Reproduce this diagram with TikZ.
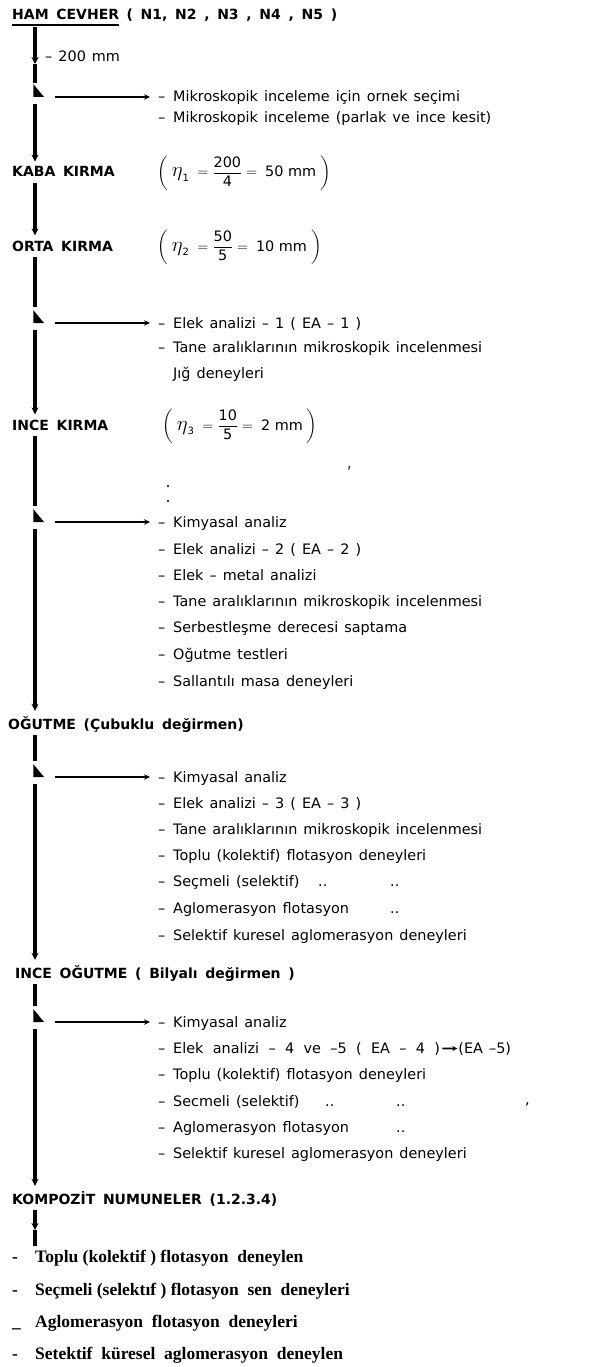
\documentclass[tikz,border=0pt]{standalone}
\usepackage{fontspec}
\usepackage{amsmath}
\usepackage{graphicx}
\setmainfont{DejaVu Sans}
\newfontfamily\serifbold{Liberation Serif}
\usetikzlibrary{arrows.meta,calc}
\newcommand{\blt}{\makebox[15pt][l]{–}}
\newcommand{\sblt}[1]{\makebox[23pt][l]{#1}}
\newcommand{\wsp}{\spaceskip 0.42em\relax}
\newcommand{\hsp}{\spaceskip 0.55em\relax}
\newcommand{\widesp}{\spaceskip 0.65em\relax}
\newcommand{\bigeta}{\mbox{\fontsize{20}{20}\selectfont$\eta$}}
\newcommand{\etafrm}[4]{$\left(\;\bigeta_{\text{#1}}\;=\dfrac{\text{#2}}{\text{#3}}=\;\text{#4}\;\right)$}
\begin{document}
\begin{tikzpicture}[x=1pt,y=-1pt,
  item/.style={anchor=base west,inner sep=0pt,font=\fontsize{14.4}{17}\selectfont\wsp},
  head/.style={anchor=base west,inner sep=0pt,font=\fontsize{14}{17}\selectfont\bfseries\hsp},
  frm/.style={anchor=base west,inner sep=0pt,font=\fontsize{14.4}{17}\selectfont},
  sitem/.style={anchor=base west,inner sep=0pt,font=\serifbold\fontsize{17.5}{21}\selectfont\bfseries},
  spine/.style={line width=3.5pt},
  spinearrow/.style={line width=3.5pt,-{Stealth[length=7pt,width=7pt]}},
  branch/.style={line width=2.2pt,-{Stealth[length=6pt,width=5.5pt]},shorten >=8pt},
  trimark/.style={fill=black}
]
\useasboundingbox (0,0) rectangle (613,1367);
\coordinate (sp) at (35,0);

% ---------- HAM CEVHER ----------
\node[head] (ham) at (12,20) {HAM CEVHER};
\node[head] (hamN) at ($(ham.base east)+(7,0)$) {( N1, N2 , N3 , N4 , N5 )};
\draw[line width=2.2pt] ($(ham.base west)+(0,5)$) -- ($(ham.base east)+(0,5)$);
\node[item] (d200) at (45,62) {– 200 mm};
\coordinate (m0) at (35,64);
\coordinate (j1) at (35,97);
\draw[spinearrow,shorten <=7pt] (ham.south -| sp) -- (m0);
\draw[spine] (m0) -- ($(j1)+(0,-14)$);
\fill[trimark] ($(j1)+(-1.75,-13)$) -- ($(j1)+(-1.75,0)$) -- ($(j1)+(9,0)$) -- cycle;
\node[item] (a1) at (158,102) {\blt Mikroskopik inceleme için ornek seçimi};
\node[item] (a2) at (158,123) {\blt Mikroskopik inceleme (parlak ve ince kesit)};
\draw[branch] ($(j1)+(20,0)$) -- (j1 -| a1.west);

% ---------- KABA / ORTA ----------
\node[head] (kaba) at (12,177) {KABA KIRMA};
\node[frm] (f1) at (157,177) {\etafrm{1}{200}{4}{50 mm}};
\draw[spinearrow,shorten <=7pt,shorten >=5pt] (j1) -- (kaba.north -| sp);
\node[head] (orta) at (12,251) {ORTA KIRMA};
\node[frm] (f2) at (157,251) {\etafrm{2}{50}{5}{10 mm}};
\draw[spinearrow,shorten <=6pt,shorten >=5pt] (kaba.south -| sp) -- (orta.north -| sp);

\coordinate (j2) at (35,323);
\draw[spine,shorten <=6pt] (orta.south -| sp) -- ($(j2)+(0,-16)$);
\fill[trimark] ($(j2)+(-1.75,-13)$) -- ($(j2)+(-1.75,0)$) -- ($(j2)+(9,0)$) -- cycle;
\node[item] (b1) at (158,328) {\blt Elek analizi – 1 ( EA – 1 )};
\node[item] (b2) at (158,352) {\blt Tane aralıklarının mikroskopik incelenmesi};
\node[item] (b3) at (173,378) {Jığ deneyleri};
\draw[branch] ($(j2)+(20,0)$) -- (j2 -| b1.west);

% ---------- INCE KIRMA ----------
\node[head] (incek) at (12,430) {INCE KIRMA};
\node[frm] (f3) at (162,430) {\etafrm{3}{10}{5}{2 mm}};
\draw[spinearrow,shorten <=7pt,shorten >=5pt] (j2) -- (incek.north -| sp);
\node[item] (cm1) at (347,468) {,};
\fill (168,486) circle (1.2pt);
\fill (168,501) circle (1.2pt);

\coordinate (j3) at (35,522);
\draw[spine,shorten <=6pt] (incek.south -| sp) -- ($(j3)+(0,-16)$);
\fill[trimark] ($(j3)+(-1.75,-13)$) -- ($(j3)+(-1.75,0)$) -- ($(j3)+(9,0)$) -- cycle;
\node[item] (c1) at (158,527) {\blt Kimyasal analiz};
\node[item] (c2) at (158,554) {\blt Elek analizi – 2 ( EA – 2 )};
\node[item] (c3) at (158,580) {\blt Elek – metal analizi};
\node[item] (c4) at (158,606) {\blt Tane aralıklarının mikroskopik incelenmesi};
\node[item] (c5) at (158,632) {\blt Serbestleşme derecesi saptama};
\node[item] (c6) at (158,659) {\blt Oğutme testleri};
\node[item] (c7) at (158,686) {\blt Sallantılı masa deneyleri};
\draw[branch] ($(j3)+(20,0)$) -- (j3 -| c1.west);

% ---------- OGUTME ----------
\node[head] (ogutme) at (8,729) {OĞUTME (Çubuklu değirmen)};
\draw[spinearrow,shorten <=7pt,shorten >=5pt] (j3) -- (ogutme.north -| sp);
\coordinate (j4) at (35,777);
\draw[spine,shorten <=3pt] (ogutme.south -| sp) -- ($(j4)+(0,-16)$);
\fill[trimark] ($(j4)+(-1.75,-13)$) -- ($(j4)+(-1.75,0)$) -- ($(j4)+(9,0)$) -- cycle;
\node[item] (e1) at (158,782) {\blt Kimyasal analiz};
\node[item] (e2) at (158,808) {\blt Elek analizi – 3 ( EA – 3 )};
\node[item] (e3) at (158,834) {\blt Tane aralıklarının mikroskopik incelenmesi};
\node[item] (e4) at (158,860) {\blt Toplu (kolektif) flotasyon deneyleri};
\node[item] (e5) at (158,886) {\blt Seçmeli (selektif)};
\node[item] (e6) at (158,913) {\blt Aglomerasyon flotasyon};
\node[item] (e7) at (158,940) {\blt Selektif kuresel aglomerasyon deneyleri};
\node[item] (e5a) at (318,886) {..};
\node[item] (e5b) at (390,886) {..};
\node[item] (e6a) at (390,913) {..};
\draw[branch] ($(j4)+(20,0)$) -- (j4 -| e1.west);

% ---------- INCE OGUTME ----------
\node[head] (inceo) at (15,978) {INCE OĞUTME ( Bilyalı değirmen )};
\draw[spinearrow,shorten <=7pt,shorten >=5pt] (j4) -- (inceo.north -| sp);
\coordinate (j5) at (35,1022);
\draw[spine,shorten <=3pt] (inceo.south -| sp) -- ($(j5)+(0,-16)$);
\fill[trimark] ($(j5)+(-1.75,-13)$) -- ($(j5)+(-1.75,0)$) -- ($(j5)+(9,0)$) -- cycle;
\node[item] (g1) at (158,1027) {\blt Kimyasal analiz};
\node[item,font=\fontsize{14.4}{17}\selectfont\widesp] (g2) at (158,1053) {\blt Elek analizi – 4 ve –5 ( EA – 4 )};
\node[item] (g2b) at ($(g2.base east)+(18,0)$) {(EA –5)};
\draw[line width=1.8pt,-{Stealth[length=5pt,width=5pt]},shorten <=2pt,shorten >=1pt] (g2.east) -- (g2b.west);
\node[item] (g3) at (158,1079) {\blt Toplu (kolektif) flotasyon deneyleri};
\node[item] (g4) at (158,1106) {\blt Secmeli (selektif)};
\node[item] (g5) at (158,1132) {\blt Aglomerasyon flotasyon};
\node[item] (g6) at (158,1158) {\blt Selektif kuresel aglomerasyon deneyleri};
\node[item] (g4a) at (325,1106) {..};
\node[item] (g4b) at (396,1106) {..};
\node[item] (g4c) at (525,1104) {,};
\node[item] (g5a) at (396,1132) {..};
\draw[branch] ($(j5)+(20,0)$) -- (j5 -| g1.west);

% ---------- KOMPOZIT ----------
\node[head] (komp) at (12,1204) {KOMPOZİT NUMUNELER (1.2.3.4)};
\draw[spinearrow,shorten <=7pt,shorten >=5pt] (j5) -- (komp.north -| sp);
\coordinate (m12) at (35,1230);
\coordinate (m13) at (35,1246);
\draw[spinearrow,shorten <=4pt] (komp.south -| sp) -- (m12);
\draw[spine] (m12) -- (m13);

\node[sitem] (h1) at (12,1262) {\sblt{-}Toplu (kolektif ) flotasyon \ deneylen};
\node[sitem] (h2) at (12,1295) {\sblt{-}Seçmeli (selektıf ) flotasyon \ sen \ deneyleri};
\node[sitem] (h3) at (12,1327) {\sblt{\_}Aglomerasyon \ flotasyon \ deneyleri};
\node[sitem] (h4) at (12,1359) {\sblt{-}Setektif \ küresel \ aglomerasyon \ deneylen};
\end{tikzpicture}
\end{document}
